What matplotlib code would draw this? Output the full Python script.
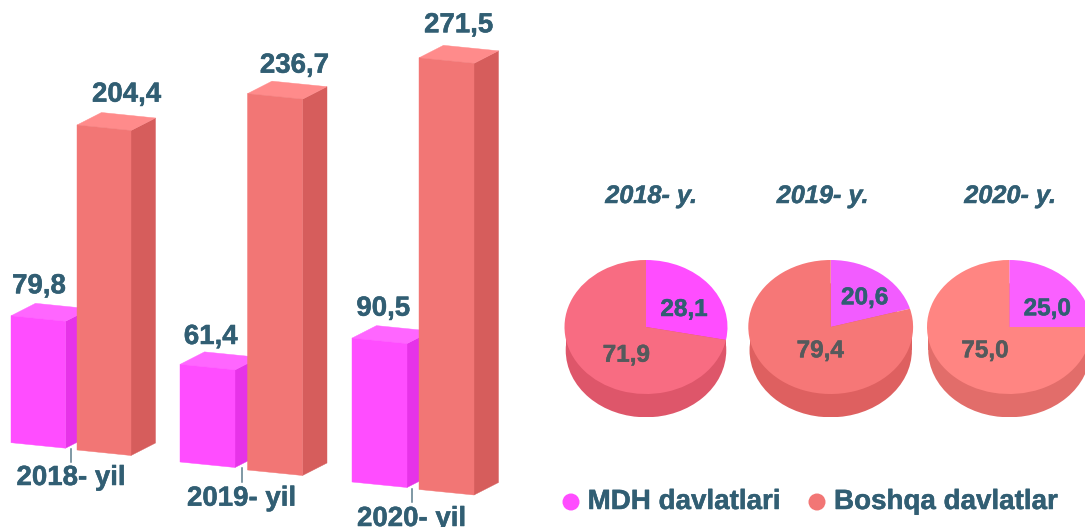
import math
import matplotlib
matplotlib.use("Agg")
import matplotlib.pyplot as plt
import matplotlib.patheffects as pe
from matplotlib.patches import Polygon, Circle, Rectangle, Ellipse

# ---- data ----
bar_years = ["2018- yil", "2019- yil", "2020- yil"]
pie_years = ["2018- y.", "2019- y.", "2020- y."]
mdh_values = [79.8, 61.4, 90.5]
boshqa_values = [204.4, 236.7, 271.5]
mdh_share = [28.1, 20.6, 25.0]
boshqa_share = [71.9, 79.4, 75.0]
legend_labels = ["MDH davlatlari", "Boshqa davlatlar"]

# ---- layout and style ----
W, H = 1085, 527
plt.rcParams["font.family"] = ["Liberation Sans", "DejaVu Sans"]
TXT = "#315E73"
GREY = "#555A5C"
PX_PER_UNIT = 1.59
FRONT_W = (54.5, 55, 55)
BOSHQA_W = (54, 55, 55)
SKEW, DEPTH_X, DEPTH_Y = 5.5, 24.5, -12.5
MDH_BASE = [(11, 442.7), (180, 462), (352, 482)]
BOSHQA_BASE = [(77, 450), (247.5, 470), (419, 489.5)]
MDH_COL = ("#FF4DFF", "#FF66FF", "#E633E8")
BOSHQA_COL = ("#F27675", "#FF8B8B", "#D65D5C")

fig = plt.figure(figsize=(W / 100, H / 100), dpi=100, facecolor="white")
ax = fig.add_axes([0, 0, 1, 1], zorder=1)
ax.set_xlim(0, W)
ax.set_ylim(H, 0)
ax.axis("off")


def bar3d(x, y, w, value, cols):
    h = value * PX_PER_UNIT
    xr = x + w
    yr = y + SKEW
    front = [(x, y), (xr, yr), (xr, yr - h), (x, y - h)]
    side = [(xr, yr), (xr + DEPTH_X, yr + DEPTH_Y),
            (xr + DEPTH_X, yr + DEPTH_Y - h), (xr, yr - h)]
    top = [(x, y - h), (xr, yr - h), (xr + DEPTH_X, yr + DEPTH_Y - h),
           (x + DEPTH_X, y + DEPTH_Y - h)]
    for poly, c in ((side, cols[2]), (top, cols[1]), (front, cols[0])):
        ax.add_patch(Polygon(poly, closed=True, facecolor=c, edgecolor=c, linewidth=0.3))


for i in range(3):
    bar3d(*MDH_BASE[i], FRONT_W[i], mdh_values[i], MDH_COL)
    bar3d(*BOSHQA_BASE[i], BOSHQA_W[i], boshqa_values[i], BOSHQA_COL)


def heavy(c):
    return [pe.withStroke(linewidth=0.35, foreground=c)]


BIG = dict(fontsize=19.9, fontweight="bold", color=TXT, ha="center", va="baseline",
           path_effects=heavy(TXT))


def fmt(v):
    return f"{v:.1f}".replace(".", ",")


for v, x, y in zip(mdh_values, (39, 210.7, 383.3), (293.3, 344, 315.7)):
    ax.text(x, y, fmt(v), **BIG)
for v, x, y in zip(boshqa_values, (126.5, 294.5, 458.7), (101.7, 72.7, 32.3)):
    ax.text(x, y, fmt(v), **BIG)
for lab, x, y in zip(bar_years, (71, 241.5, 411.5), (485, 505.7, 526)):
    ax.text(x, y, lab, **BIG)
for x, y0, y1 in ((71, 448.5, 462), (241.5, 468, 482), (411.7, 489, 501.7)):
    ax.plot([x, x], [y0, y1], color="#5B7C8C", linewidth=1.1)

# ---- pies ----
PIE_CX = (646, 830.7, 1009.3)
PIE_RX = (81.5, 82.4, 82.3)
PIE_TOP, PIE_FACE_BOTTOM, PIE_BOTTOM = 260, 394, 417.3
SIDE_NARROW = 0.985
PIE_COL = [
    ("#FF4DFF", "#F86C82", "#E633E8", "#DE566A"),
    ("#F25CFF", "#F67777", "#D84CE0", "#DE6060"),
    ("#FA60FF", "#FF8582", "#E050E5", "#E26D6A"),
]
ry = (PIE_FACE_BOTTOM - PIE_TOP) / 2
depth = (PIE_BOTTOM - PIE_FACE_BOTTOM) / ry

for i in range(3):
    cx, rx = PIE_CX[i], PIE_RX[i]
    pax = fig.add_axes([(cx - rx) / W, 1 - PIE_BOTTOM / H, 2 * rx / W,
                        (PIE_BOTTOM - PIE_TOP) / H], zorder=0)
    vals = [mdh_share[i], boshqa_share[i]]
    c = PIE_COL[i]
    # extruded rim, a touch narrower than the face
    pax.add_patch(Rectangle((-SIDE_NARROW, -depth), 2 * SIDE_NARROW, depth,
                            facecolor=c[3], edgecolor="none"))
    pax.add_patch(Ellipse((0, -depth), 2 * SIDE_NARROW, 2, facecolor=c[3], edgecolor="none"))
    # a slice running past three o'clock shows on the rim as a thin sliver
    end = 2 * math.pi * mdh_share[i] / 100
    if mdh_share[i] > 25:
        pax.add_patch(Rectangle((math.sin(end), -depth), SIDE_NARROW - math.sin(end),
                                depth + math.cos(end),
                                facecolor=c[2], edgecolor="none"))
    pax.pie(vals, colors=[c[0], c[1]], startangle=90, counterclock=False,
            center=(0, 0), radius=1)
    pax.set_aspect("auto")
    pax.set_xlim(-1, 1)
    pax.set_ylim(-1 - depth, 1)
    pax.axis("off")

for lab, x in zip(pie_years, (651, 822.5, 1010)):
    ax.text(x, 203, lab, fontsize=18.2, fontweight="bold", fontstyle="italic",
            color=TXT, ha="center", va="baseline", path_effects=heavy(TXT))

SMALL = dict(fontsize=17.5, fontweight="bold", ha="center", va="baseline")
for v, x, y in zip(mdh_share, (684, 864.7, 1047.3), (316, 304.3, 315.3)):
    ax.text(x, y, fmt(v), color=TXT, path_effects=heavy(TXT), **SMALL)
for v, x, y in zip(boshqa_share, (626.3, 820.3, 985), (361.7, 357.3, 357.3)):
    ax.text(x, y, fmt(v), color=GREY, path_effects=heavy(GREY), **SMALL)

# ---- legend ----
for lab, col, mx, tx in zip(legend_labels, (MDH_COL[0], BOSHQA_COL[0]),
                            (571, 817), (587.6, 834)):
    ax.add_patch(Circle((mx, 502), 8.5, facecolor=col, edgecolor="none"))
    ax.text(tx, 509, lab, fontsize=20, fontweight="bold", color=TXT,
            ha="left", va="baseline", path_effects=heavy(TXT))

fig.savefig("out.png", dpi=100, facecolor="white")
